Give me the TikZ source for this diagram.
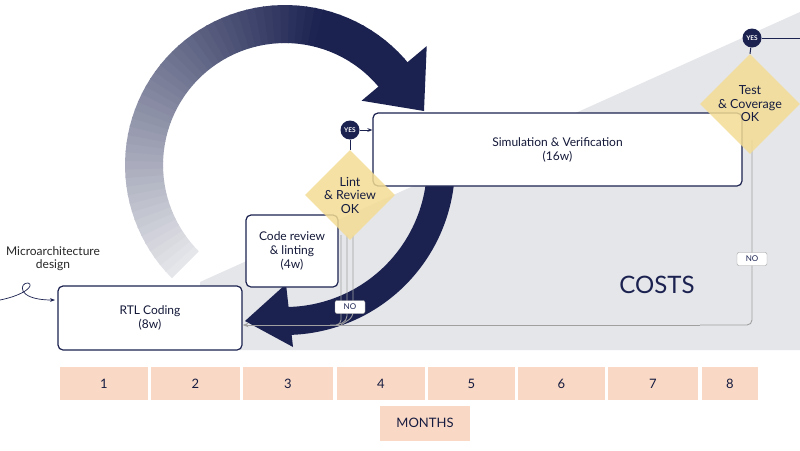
\documentclass[tikz,border=0pt]{standalone}
\usepackage{fontspec}
\setmainfont{Lato}
\usetikzlibrary{shapes.geometric,arrows.meta}
\definecolor{navy}{HTML}{1B2250}
\definecolor{peach}{HTML}{F9D9C5}
\definecolor{dia}{HTML}{F3DC93}
\definecolor{bg}{HTML}{E5E6EA}
\definecolor{ln}{HTML}{A0A0A0}
\begin{document}
\begin{tikzpicture}[x=1pt,y=-1pt,
  box/.style={draw=navy,line width=1.2pt,rounded corners=5pt,fill=white,align=center,font=\fontsize{12}{14}\selectfont,text=navy!70!black},
  month/.style={fill=peach,minimum height=33pt,font=\fontsize{13}{15}\selectfont,text=navy!80!black,inner sep=0pt},
  dmd/.style={diamond,fill=dia,fill opacity=0.85,text opacity=1,minimum width=90pt,minimum height=90pt,inner sep=0pt,align=center,font=\fontsize{12.5}{13.5}\selectfont,text=navy!80!black},
  yes/.style={circle,fill=navy,text=white,inner sep=0pt,minimum size=19pt,font=\fontsize{6.5}{7}\bfseries},
  nolab/.style={draw=ln,fill=white,rounded corners=2pt,minimum width=30pt,minimum height=13pt,inner sep=1pt,font=\fontsize{8}{9}\selectfont,text=navy},
  noline/.style={draw=ln,line width=0.9pt,rounded corners=5pt}]
\useasboundingbox (0,0) rectangle (800,450);
\fill[white] (0,0) rectangle (800,450);
\fill[bg] (200,282) -- (800,12) -- (800,350) -- (200,350) -- cycle;
% upper gradient arc
\foreach \i in {0,...,59}{
  \pgfmathsetmacro{\aa}{225-\i*3.1}
  \pgfmathsetmacro{\ab}{\aa-3.5}
  \pgfmathsetmacro{\p}{min(100,\i*2.1)}
  \fill[navy!\p!bg] ({285+122*cos(\aa)},{165-122*sin(\aa)}) -- ({285+160*cos(\aa)},{165-160*sin(\aa)}) -- ({285+160*cos(\ab)},{165-160*sin(\ab)}) -- ({285+122*cos(\ab)},{165-122*sin(\ab)}) -- cycle;
}
\fill[navy] ({285+100*cos(40)},{165-100*sin(40)}) -- ({285+185*cos(40)},{165-185*sin(40)}) -- (424,111) -- cycle;
% lower arc
\fill[navy] ({285+142*cos(15)},{165-142*sin(15)}) arc[start angle=-15,end angle=90,radius=142] -- ({285+170*cos(-90)},{165-170*sin(-90)}) arc[start angle=90,end angle=-15,radius=170] -- cycle;
\fill[navy] (286,284) -- (293,347) -- (245,321) -- cycle;
% no lines
\draw[noline] (341,235) -- (341,325) -- (330,325);
\draw[noline] (347,235) -- (347,321) -- (337,325);
\draw[noline] (353,235) -- (353,317) -- (341,325);
\draw[noline] (752,140) -- (752,325) -- (700,325);
% boxes
\node[box,minimum width=184pt,minimum height=64pt] (rtl) at (150,318) {RTL Coding\\(8w)};
\node[box,minimum width=92pt,minimum height=72pt] (cr) at (292,251) {Code review\\\& linting\\(4w)};
\node[box,minimum width=369pt,minimum height=73pt] (sim) at (557.5,149.5) {Simulation \& Verification\\(16w)};
\draw[ln,line width=0.9pt,-{Stealth[length=6pt]}] (700,325) -- (rtl.east |- 0,325);
\node[dmd] (lint) at (350,195) {Lint\\\& Review\\OK};
\node[dmd] (test) at (750,104) {Test\\\& Coverage\\OK};
\node[yes] (y1) at (350,130) {YES};
\node[yes] (y2) at (752,38) {YES};
\draw[navy,line width=1pt] (y1) -- (lint.north);
\draw[navy,line width=1pt] (y2) -- (test.north);
\draw[navy,line width=0.8pt,-{Stealth[length=5pt]}] (y1) -- (sim.west |- y1);
\coordinate (out) at (800,38);
\draw[navy,line width=0.8pt] (y2) -- (out);
\node[nolab] (n1) at (350,307) {NO};
\node[nolab] (n2) at (752,259) {NO};
\node[font=\fontsize{24}{26}\selectfont,text=navy] (costs) at (657,285) {COSTS};
\node[align=center,font=\fontsize{12}{13}\selectfont,text=black!85] (micro) at (53,259) {Microarchitecture\\design};
\coordinate (cs) at (0,300);
\draw[navy,line width=0.7pt,-{Stealth[length=5pt]}] (cs) .. controls (25,295) and (35,285) .. (28,283) .. controls (20,282) and (15,300) .. (55,300);
% months
\foreach \n/\a/\b in {1/60/148,2/151/240,3/243/333,4/337/425,5/428/515,6/518/605,7/608/698,8/702/758}{
  \node[month,minimum width={\b-\a}] (m\n) at ({(\a+\b)/2},383.5) {\n};
}
\node[month,minimum width=90pt,minimum height=35pt] (months) at (425,423) {MONTHS};
\end{tikzpicture}
\end{document}
